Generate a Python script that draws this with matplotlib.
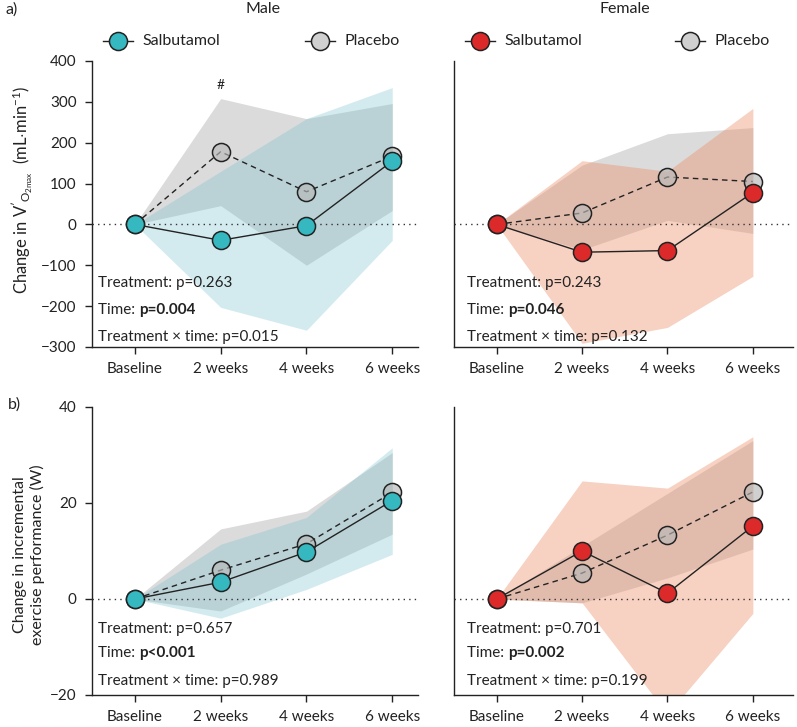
import matplotlib
matplotlib.use("Agg")
import matplotlib.pyplot as plt
from matplotlib.lines import Line2D

plt.rcParams["font.family"] = ["Lato", "DejaVu Sans"]
plt.rcParams["mathtext.fontset"] = "custom"
plt.rcParams["mathtext.rm"] = "Lato"
plt.rcParams["mathtext.it"] = "Lato:italic"
plt.rcParams["mathtext.bf"] = "Lato:bold"

weeks = ["Baseline", "2 weeks", "4 weeks", "6 weeks"]

# V'O2max change (mL/min)
vo2_m_salb = [0, -39, -3, 155]
vo2_m_plac = [0, 178, 80, 167]
vo2_m_salb_lo = [0, -203, -259, -39]
vo2_m_salb_hi = [0, 130, 259, 335]
vo2_m_plac_lo = [0, 46, -100, 34]
vo2_m_plac_hi = [0, 308, 259, 296]

vo2_f_salb = [0, -68, -64, 78]
vo2_f_plac = [0, 28, 116, 105]
vo2_f_salb_lo = [0, -291, -252, -127]
vo2_f_salb_hi = [0, 156, 130, 284]
vo2_f_plac_lo = [0, -62, 10, -22]
vo2_f_plac_hi = [0, 145, 222, 237]

# incremental exercise performance change (W)
w_m_salb = [0, 3.5, 9.8, 20.5]
w_m_plac = [0, 6.0, 11.5, 22.2]
w_m_salb_lo = [0, -4.0, 2.0, 9.3]
w_m_salb_hi = [0, 11.4, 17.0, 31.5]
w_m_plac_lo = [0, -2.5, 5.2, 13.5]
w_m_plac_hi = [0, 14.6, 18.3, 30.5]

w_f_salb = [0, 10.0, 1.2, 15.2]
w_f_plac = [0, 5.4, 13.3, 22.3]
w_f_salb_lo = [0, -0.8, -24.0, -3.0]
w_f_salb_hi = [0, 24.6, 23.1, 33.8]
w_f_plac_lo = [0, -0.8, 4.4, 10.4]
w_f_plac_hi = [0, 11.0, 22.0, 33.0]

p_treat = ["0.263", "0.243", "0.657", "0.701"]
p_time = ["p=0.004", "p=0.046", "p<0.001", "p=0.002"]
p_inter = ["0.015", "0.132", "0.989", "0.199"]

teal = "#36B8C1"
red = "#DC2A2A"
teal_fill = (0.43, 0.75, 0.80)
orange_fill = (0.92, 0.55, 0.40)
grey_fill = (0.60, 0.60, 0.60)
plac_face = (0.72, 0.72, 0.72, 0.65)

W, H = 797, 727
fig = plt.figure(figsize=(W / 100, H / 100), dpi=100)


def box(x0, x1, ytop, ybot):
    return [x0 / W, 1 - ybot / H, (x1 - x0) / W, (ybot - ytop) / H]


def panel(ax, salb, plac, s_lo, s_hi, p_lo, p_hi, col, fcol, falpha, xr, ylim, yticks, idx, txt_x, txt_y):
    x = range(len(weeks))
    ax.fill_between(x, p_lo, p_hi, color=grey_fill, alpha=0.35, lw=0, zorder=1)
    ax.fill_between(x, s_lo, s_hi, color=fcol, alpha=falpha, lw=0, zorder=2)
    ax.axhline(0, color="#333333", lw=1, ls=(0, (1, 3)), zorder=3)
    ax.plot(x, plac, color="#222222", lw=1, ls=(0, (4, 3)), marker="o", ms=13,
            mfc=plac_face, mec="#222222", mew=1.1, zorder=4)
    ax.plot(x, salb, color="#222222", lw=1, marker="o", ms=13,
            mfc=col, mec="#222222", mew=1.1, zorder=5)
    ax.set_xlim(-0.5, xr)
    ax.set_ylim(*ylim)
    ax.set_xticks(list(x))
    ax.set_xticklabels(weeks, fontsize=11, color="#222222")
    for s in ["top", "right"]:
        ax.spines[s].set_visible(False)
    for s in ["left", "bottom"]:
        ax.spines[s].set_linewidth(1)
        ax.spines[s].set_color("#222222")
    ax.tick_params(length=5, width=1, color="#222222", pad=6)
    if yticks is None:
        ax.set_yticks([])
    else:
        ax.set_yticks(yticks)
        ax.tick_params(axis="y", labelsize=11, labelcolor="#222222")
    fs = 11
    ax.text(txt_x, txt_y[0], "Treatment: p=" + p_treat[idx], transform=ax.transAxes,
            fontsize=fs, color="#222222", va="bottom")
    t = ax.text(txt_x, txt_y[1], "Time: ", transform=ax.transAxes,
                fontsize=fs, color="#222222", va="bottom")
    ax.annotate(p_time[idx], xy=(1, 0), xycoords=t, va="bottom", ha="left",
                fontsize=fs, fontweight="bold", color="#222222")
    ax.text(txt_x, txt_y[2], "Treatment \u00d7 time: p=" + p_inter[idx], transform=ax.transAxes,
            fontsize=fs, color="#222222", va="bottom")


ax_tl = fig.add_axes(box(92, 418, 61, 347))
ax_tr = fig.add_axes(box(454, 793, 61, 347))
ax_bl = fig.add_axes(box(92, 418, 407, 695))
ax_br = fig.add_axes(box(454, 793, 407, 695))

top_txt = [0.20, 0.105, 0.012]
bot_txt = [0.205, 0.122, 0.025]

panel(ax_tl, vo2_m_salb, vo2_m_plac, vo2_m_salb_lo, vo2_m_salb_hi, vo2_m_plac_lo, vo2_m_plac_hi,
      teal, teal_fill, 0.3, 3.3, (-300, 400), range(-300, 401, 100), 0, 0.018, top_txt)
panel(ax_tr, vo2_f_salb, vo2_f_plac, vo2_f_salb_lo, vo2_f_salb_hi, vo2_f_plac_lo, vo2_f_plac_hi,
      red, orange_fill, 0.4, 3.47, (-300, 400), None, 1, 0.038, top_txt)
panel(ax_bl, w_m_salb, w_m_plac, w_m_salb_lo, w_m_salb_hi, w_m_plac_lo, w_m_plac_hi,
      teal, teal_fill, 0.3, 3.3, (-20, 40), [-20, 0, 20, 40], 2, 0.018, bot_txt)
panel(ax_br, w_f_salb, w_f_plac, w_f_salb_lo, w_f_salb_hi, w_f_plac_lo, w_f_plac_hi,
      red, orange_fill, 0.4, 3.47, (-20, 40), None, 3, 0.038, bot_txt)

ax_tl.text(1, 342, "#", ha="center", va="center", fontsize=10, color="#222222")

# titles, panel letters, axis labels
fig.text(6 / W, 1 - 10 / H, "a)", fontsize=11.5, va="center", color="#222222")
fig.text(8 / W, 1 - 405 / H, "b)", fontsize=11.5, va="center", color="#222222")
fig.text(263 / W, 1 - 9 / H, "Male", fontsize=11.5, ha="center", va="center", color="#222222")
fig.text(625 / W, 1 - 9 / H, "Female", fontsize=11.5, ha="center", va="center", color="#222222")
fig.text(22 / W, 1 - 190 / H,
         r"Change in $\mathrm{V}'_{\mathrm{O}_{\!\mathrm{2max}}}$  (mL$\cdot$min$^{-1}$)",
         rotation=90, ha="center", va="center", fontsize=12, color="#222222")
fig.text(29 / W, 1 - 555 / H, "Change in incremental\nexercise performance (W)",
         rotation=90, ha="center", va="center", multialignment="center",
         fontsize=11.5, color="#222222")

# legends drawn by hand
legend_items = [
    (118, "Salbutamol", teal),
    (320, "Placebo", plac_face),
    (480, "Salbutamol", red),
    (690, "Placebo", plac_face),
]
for cx, label, face in legend_items:
    yy = 1 - 41 / H
    fig.add_artist(Line2D([(cx - 15) / W, (cx + 15) / W], [yy, yy], transform=fig.transFigure,
                          color="#222222", lw=1, ls="-"))
    fig.add_artist(Line2D([cx / W], [yy], transform=fig.transFigure, marker="o", ms=13,
                          mfc="white", mec="white", mew=0, ls="none"))
    fig.add_artist(Line2D([cx / W], [yy], transform=fig.transFigure, marker="o", ms=13,
                          mfc=face, mec="#222222", mew=1.1, ls="none"))
    fig.text((cx + 24) / W, yy, label, fontsize=11.5, va="center", color="#222222")

fig.savefig("out.png", dpi=100)
